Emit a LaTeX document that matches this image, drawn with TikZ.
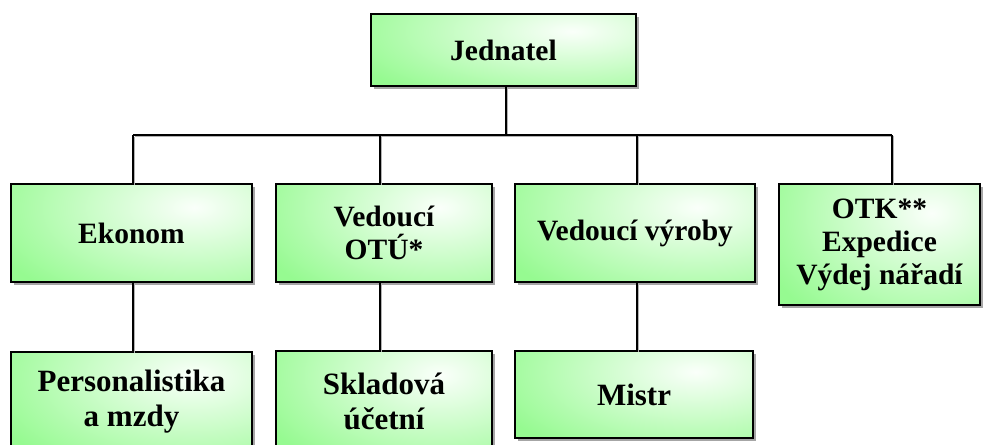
\documentclass[tikz,border=0pt]{standalone}
\usepackage{fontspec}
\setmainfont{Liberation Serif}
\usetikzlibrary{shadows,calc}
\definecolor{boxgreen}{RGB}{150,250,145}
\definecolor{boxlight}{RGB}{250,255,250}
\tikzset{
  box/.style={draw=black, line width=1.4pt, rectangle, inner sep=0pt, align=center,
    drop shadow={shadow xshift=3pt, shadow yshift=-3pt, fill=gray!70, opacity=1},
    path picture={
      \fill[boxgreen] (path picture bounding box.south west) rectangle (path picture bounding box.north east);
      \shade[inner color=boxlight, outer color=boxgreen]
        let \p1=(path picture bounding box.south west), \p2=(path picture bounding box.north east) in
        ($(\p1)!0.76!(\p2)$) ellipse [x radius={0.9*(\x2-\x1)}, y radius={1.1*(\y2-\y1)}];
    }},
  upper/.style={box, font=\fontsize{29.5}{33}\selectfont\bfseries},
  lower/.style={box, font=\fontsize{31}{35}\selectfont\bfseries},
  conn/.style={line width=1.5pt, black},
  connshadow/.style={line width=1.5pt, gray!60},
}
\begin{document}
\begin{tikzpicture}[x=1pt,y=-1pt]
\useasboundingbox (0,0) rectangle (984,444);
\clip (0,0) rectangle (984,444);
% nodes
\node[upper, minimum width=265pt, minimum height=72pt] (J) at (503.5,50) {Jednatel};
\node[upper, minimum width=241pt, minimum height=98pt] (Ek) at (131.5,233) {Ekonom};
\node[upper, minimum width=216pt, minimum height=98pt] (OTU) at (384,233) {Vedoucí\\OTÚ*};
\node[upper, minimum width=240pt, minimum height=98pt] (VV) at (635,233) {Vedoucí výroby};
\node[upper, minimum width=201pt, minimum height=121pt] (OTK) at (879.5,244.5) {OTK**\\Expedice\\Výdej nářadí};
\node[lower, minimum width=241pt, minimum height=100pt] (P) at (131.5,402) {Personalistika\\a mzdy};
\node[lower, minimum width=216pt, minimum height=100pt] (S) at (384,401) {Skladová\\účetní};
\node[lower, minimum width=238pt, minimum height=87pt] (M) at (634,394.5) {Mistr};
% connector coordinates
\coordinate (bJ) at (506,135);
\coordinate (b1) at (133,135);
\coordinate (b2) at (380,135);
\coordinate (b3) at (637,135);
\coordinate (b4) at (892,135);
\coordinate (d1) at (133,282);
\coordinate (d2) at (380,282);
\coordinate (d3) at (637,282);
% connector shadows
\begin{scope}[transform canvas={shift={(1.5pt,-1.5pt)}}]
\draw[connshadow] (bJ |- J.south) -- (bJ);
\draw[connshadow] (b1) -- (b4);
\draw[connshadow] (b1) -- (b1 |- Ek.north);
\draw[connshadow] (b2) -- (b2 |- OTU.north);
\draw[connshadow] (b3) -- (b3 |- VV.north);
\draw[connshadow] (b4) -- (b4 |- OTK.north);
\draw[connshadow] (d1) -- (d1 |- P.north);
\draw[connshadow] (d2) -- (d2 |- S.north);
\draw[connshadow] (d3) -- (d3 |- M.north);
\end{scope}
% connectors
\draw[conn] (bJ |- J.south) -- (bJ);
\draw[conn] (b1) -- (b4);
\draw[conn] (b1) -- (b1 |- Ek.north);
\draw[conn] (b2) -- (b2 |- OTU.north);
\draw[conn] (b3) -- (b3 |- VV.north);
\draw[conn] (b4) -- (b4 |- OTK.north);
\draw[conn] (d1) -- (d1 |- P.north);
\draw[conn] (d2) -- (d2 |- S.north);
\draw[conn] (d3) -- (d3 |- M.north);
\end{tikzpicture}
\end{document}
